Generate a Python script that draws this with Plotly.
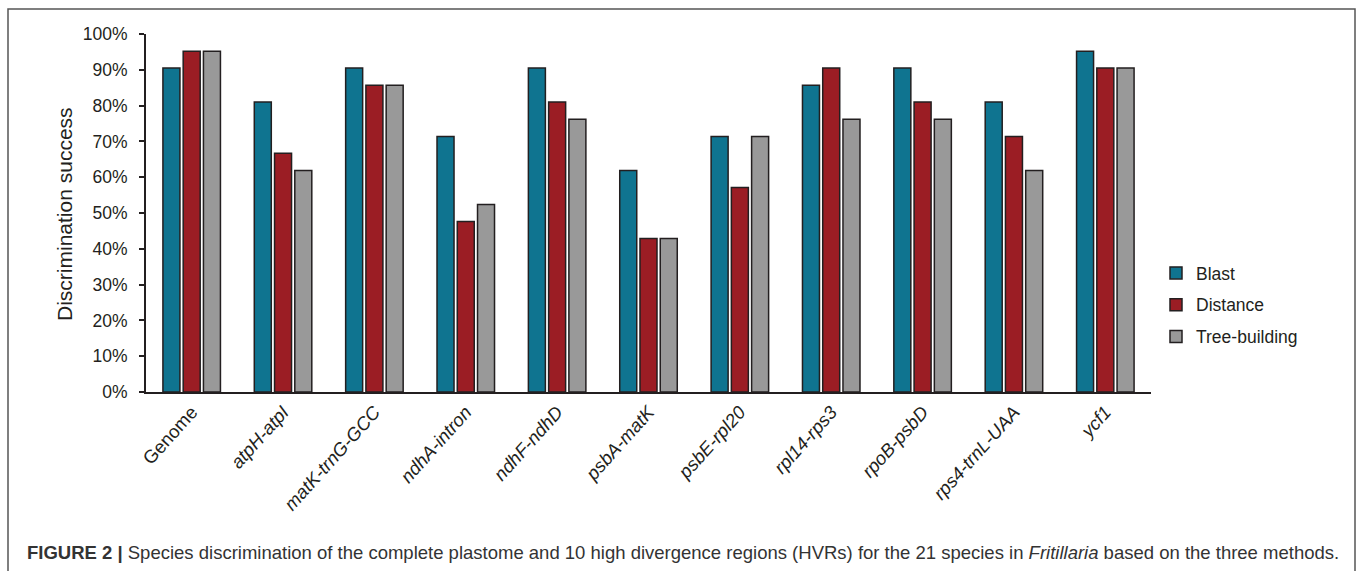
import plotly.graph_objects as go

categories = ["Genome", "<i>atpH-atpI</i>", "<i>matK-trnG-GCC</i>", "<i>ndhA-intron</i>",
              "<i>ndhF-ndhD</i>", "<i>psbA-matK</i>", "<i>psbE-rpl20</i>", "<i>rpl14-rps3</i>",
              "<i>rpoB-psbD</i>", "<i>rps4-trnL-UAA</i>", "<i>ycf1</i>"]
blast = [90.5, 81.0, 90.5, 71.4, 90.5, 61.9, 71.4, 85.7, 90.5, 81.0, 95.2]
distance = [95.2, 66.7, 85.7, 47.6, 81.0, 42.9, 57.1, 90.5, 81.0, 71.4, 90.5]
tree_building = [95.2, 61.9, 85.7, 52.4, 76.2, 42.9, 71.4, 76.2, 76.2, 61.9, 90.5]
y_ticks = [0, 10, 20, 30, 40, 50, 60, 70, 80, 90, 100]
y_tick_labels = ["0%", "10%", "20%", "30%", "40%", "50%", "60%", "70%", "80%", "90%", "100%"]

series = [("Blast", blast, "#0f7490"), ("Distance", distance, "#9b1d24"),
          ("Tree-building", tree_building, "#999999")]

FONT = "Liberation Sans, Arial, sans-serif"
DARK = "#231f20"

fig = go.Figure()
for name, vals, col in series:
    fig.add_trace(go.Bar(
        x=categories, y=vals, name=name, legendgroup=name,
        marker=dict(color=col, line=dict(color=DARK, width=1.5)),
    ))

W, H = 1358, 571
L, R, T, B = 146, 1151, 34, 392

def px_x(px):
    return (px - L) / (R - L)

def px_y(py):
    return (B - py) / (B - T)

fig.update_layout(
    width=W, height=H,
    margin=dict(l=L, r=W - R, t=T, b=H - B, pad=0),
    paper_bgcolor="white", plot_bgcolor="white",
    barmode="group", bargap=0.335, bargroupgap=0.16,
    font=dict(family=FONT, color=DARK, size=17.5),
    showlegend=True,
    legend=dict(x=px_x(1156), y=px_y(255), xanchor="left", yanchor="top",
                font=dict(size=17.5, color=DARK, family=FONT),
                tracegroupgap=6, bgcolor="rgba(0,0,0,0)"),
    xaxis=dict(range=[-0.5, 10.5], showline=True, linecolor=DARK, linewidth=2,
               ticks="", tickangle=-48, showgrid=False, zeroline=False,
               tickfont=dict(size=18.5, color=DARK, family=FONT)),
    yaxis=dict(range=[0, 100], tickmode="array", tickvals=y_ticks, ticktext=y_tick_labels,
               showline=True, linecolor=DARK, linewidth=2, ticks="outside", ticklen=5,
               tickwidth=1.5, tickcolor=DARK, showgrid=False, zeroline=False,
               ticklabelstandoff=8,
               tickfont=dict(size=17.5, color=DARK, family=FONT)),
    shapes=[dict(type="rect", xref="paper", yref="paper",
                 x0=px_x(8), x1=px_x(1355), y0=px_y(590), y1=px_y(9),
                 line=dict(color="#555555", width=1.5), fillcolor="rgba(0,0,0,0)",
                 layer="below")],
    annotations=[
        dict(text="Discrimination success", textangle=-90, xref="paper", yref="paper",
             x=px_x(64), y=px_y(214), xanchor="center", yanchor="middle",
             showarrow=False, font=dict(size=21, color=DARK, family=FONT)),
        dict(text="<b>FIGURE 2 |</b> Species discrimination of the complete plastome and 10 high divergence regions (HVRs) for the 21 species in <i>Fritillaria</i> based on the three methods.",
             xref="paper", yref="paper", x=px_x(25), y=px_y(552),
             xanchor="left", yanchor="middle", showarrow=False,
             font=dict(size=18.5, color="#333333", family=FONT)),
    ],
)

fig.write_html("out.html", config={"displayModeBar": False},
               post_script="document.body.style.margin='0';document.documentElement.style.overflow='hidden';")
